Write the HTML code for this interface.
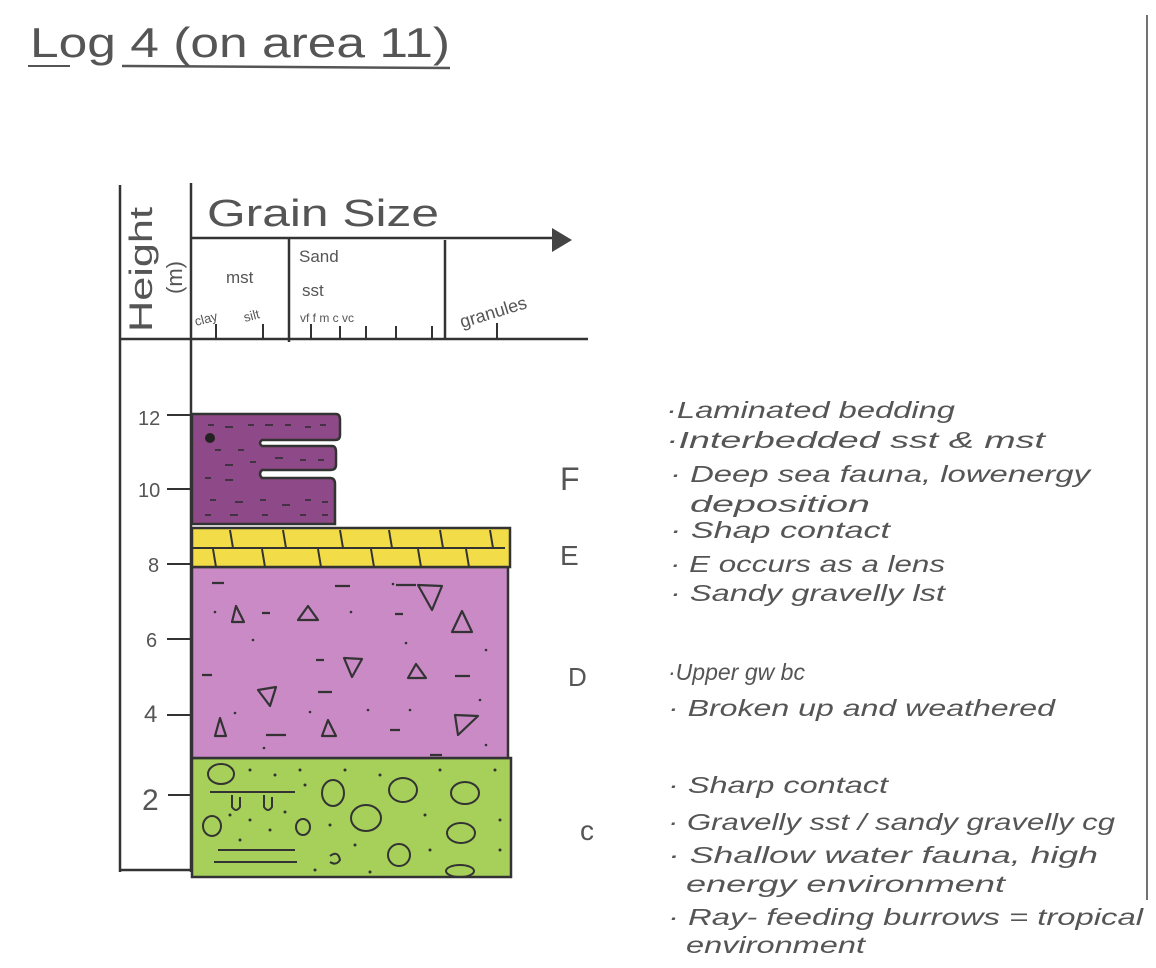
<!DOCTYPE html>
<html><head><meta charset="utf-8"><style>
html,body{margin:0;padding:0;background:#fff;}
svg{display:block;}
text{font-family:"Liberation Sans",sans-serif;fill:#555;}
</style></head><body>
<svg width="1156" height="968" viewBox="0 0 1156 968" xmlns="http://www.w3.org/2000/svg">
<rect width="1156" height="968" fill="#fff"/>
<line x1="1147" y1="15" x2="1147" y2="900" stroke="#444" stroke-width="1.5"/>
<!-- title -->
<text x="30" y="57" font-size="42" fill="#666" textLength="420" lengthAdjust="spacingAndGlyphs">Log 4 (on area 11)</text>
<line x1="28" y1="66" x2="70" y2="66" stroke="#555" stroke-width="2"/>
<line x1="122" y1="66" x2="450" y2="68" stroke="#555" stroke-width="2.5"/>

<!-- frame -->
<g stroke="#333" stroke-width="2.5" fill="none">
<line x1="120" y1="185" x2="120" y2="872"/>
<line x1="191" y1="183" x2="191" y2="872"/>
<line x1="120" y1="870" x2="192" y2="870"/>
<line x1="120" y1="339" x2="588" y2="339"/>
<line x1="191" y1="238" x2="555" y2="238"/>
<line x1="289" y1="238" x2="289" y2="342"/>
<line x1="445" y1="240" x2="445" y2="338"/>
</g>
<polygon points="552,228 572,240 552,252" fill="#444"/>
<g stroke="#333" stroke-width="2">
<line x1="216" y1="324" x2="216" y2="338"/><line x1="263" y1="324" x2="263" y2="338"/>
<line x1="311" y1="324" x2="311" y2="338"/><line x1="340" y1="326" x2="340" y2="338"/>
<line x1="366" y1="326" x2="366" y2="338"/><line x1="396" y1="326" x2="396" y2="338"/>
<line x1="432" y1="326" x2="432" y2="338"/><line x1="497" y1="323" x2="497" y2="338"/>
</g>
<text x="207" y="226" font-size="38" fill="#444" textLength="232" lengthAdjust="spacingAndGlyphs">Grain Size</text>
<text transform="translate(152,332) rotate(-90)" font-size="32" fill="#444" textLength="125" lengthAdjust="spacingAndGlyphs">Height</text>
<text transform="translate(182,294) rotate(-90)" font-size="22" fill="#444">(m)</text>
<text x="226" y="283" font-size="17" fill="#444">mst</text>
<text x="299" y="262" font-size="17" fill="#444">Sand</text>
<text x="302" y="296" font-size="17" fill="#444">sst</text>
<text x="196" y="326" font-size="13" fill="#444" transform="rotate(-15 196 326)">clay</text>
<text x="245" y="322" font-size="13" fill="#444" transform="rotate(-15 245 322)">silt</text>
<text x="300" y="322" font-size="12" fill="#444">vf  f  m   c  vc</text>
<text x="462" y="328" font-size="18" fill="#444" transform="rotate(-17 462 328)">granules</text>

<!-- height ticks -->
<g font-size="20" fill="#444">
<text x="138" y="425">12</text><line x1="167" y1="415" x2="190" y2="415" stroke="#333" stroke-width="2"/>
<text x="138" y="497">10</text><line x1="167" y1="489" x2="190" y2="489" stroke="#333" stroke-width="2"/>
<text x="148" y="572">8</text><line x1="167" y1="564" x2="190" y2="564" stroke="#333" stroke-width="2"/>
<text x="146" y="647">6</text><line x1="167" y1="639" x2="190" y2="639" stroke="#333" stroke-width="2"/>
<text x="144" y="722" font-size="24">4</text><line x1="167" y1="715" x2="190" y2="715" stroke="#333" stroke-width="2"/>
<text x="142" y="810" font-size="30">2</text><line x1="168" y1="795" x2="190" y2="795" stroke="#333" stroke-width="2"/>
</g>

<!-- C -->
<rect x="192" y="758" width="319" height="119" fill="#a6d05a" stroke="#333" stroke-width="2.5"/>
<g fill="none" stroke="#333" stroke-width="2">
<ellipse cx="221" cy="774" rx="13" ry="10"/><ellipse cx="333" cy="793" rx="11" ry="13"/>
<ellipse cx="403" cy="790" rx="14" ry="12"/><ellipse cx="465" cy="793" rx="14" ry="11"/>
<ellipse cx="212" cy="826" rx="9" ry="10"/><ellipse cx="303" cy="827" rx="7" ry="8"/>
<ellipse cx="366" cy="818" rx="15" ry="13"/><ellipse cx="461" cy="833" rx="14" ry="10"/>
<ellipse cx="399" cy="855" rx="11" ry="11"/><ellipse cx="460" cy="871" rx="14" ry="6"/>
<path d="M210 792 H295 M232 795 v12 q4 6 8 0 v-10 M264 795 v12 q4 6 8 0 v-10 M218 850 H295 M214 862 H297 M330 856 q8 -6 10 4 q-4 6 -10 2"/>
</g>
<g fill="#333">
<circle cx="250" cy="770" r="1.5"/><circle cx="275" cy="775" r="1.5"/><circle cx="300" cy="770" r="1.5"/><circle cx="345" cy="770" r="1.5"/><circle cx="380" cy="775" r="1.5"/><circle cx="440" cy="770" r="1.5"/><circle cx="495" cy="770" r="1.5"/><circle cx="305" cy="785" r="1.5"/><circle cx="230" cy="815" r="1.5"/><circle cx="250" cy="820" r="1.5"/><circle cx="270" cy="830" r="1.5"/><circle cx="285" cy="812" r="1.5"/><circle cx="330" cy="825" r="1.5"/><circle cx="425" cy="815" r="1.5"/><circle cx="500" cy="820" r="1.5"/><circle cx="240" cy="840" r="1.5"/><circle cx="355" cy="845" r="1.5"/><circle cx="430" cy="850" r="1.5"/><circle cx="500" cy="850" r="1.5"/><circle cx="315" cy="870" r="1.5"/><circle cx="370" cy="872" r="1.5"/>
</g>

<!-- D -->
<rect x="192" y="567" width="316" height="191" fill="#c98ac6" stroke="#333" stroke-width="2.5"/>
<g fill="none" stroke="#333" stroke-width="2.2" stroke-linejoin="round">
<polygon points="232,622 236,606 244,622"/><polygon points="298,620 308,606 318,620"/>
<polygon points="418,585 442,586 432,610"/><polygon points="452,632 462,611 472,632"/>
<polygon points="344,658 362,659 352,677"/><polygon points="408,678 416,664 426,678"/>
<polygon points="258,690 276,687 270,706"/><polygon points="215,736 220,718 226,736"/>
<polygon points="322,736 328,720 336,736"/><polygon points="455,715 478,716 458,735"/>
<path d="M212 583 h12 M335 586 h15 M396 585 h20 M262 613 h8 M395 614 h8 M202 675 h10 M316 660 h8 M318 692 h14 M455 676 h15 M266 735 h20 M390 730 h10 M430 755 h12"/>
</g>
<g fill="#333"><circle cx="215" cy="612" r="1.3"/><circle cx="351" cy="612" r="1.3"/><circle cx="253" cy="640" r="1.3"/><circle cx="406" cy="643" r="1.3"/><circle cx="486" cy="650" r="1.3"/><circle cx="235" cy="713" r="1.3"/><circle cx="310" cy="712" r="1.3"/><circle cx="368" cy="710" r="1.3"/><circle cx="410" cy="710" r="1.3"/><circle cx="264" cy="748" r="1.3"/><circle cx="486" cy="745" r="1.3"/><circle cx="480" cy="700" r="1.3"/><circle cx="393" cy="584" r="1.3"/></g>

<!-- E -->
<rect x="192" y="528" width="318" height="39" fill="#f2dd48" stroke="#333" stroke-width="2.5"/>
<g stroke="#333" stroke-width="2">
<line x1="192" y1="548" x2="505" y2="548"/>
<path d="M230 530 l3 18 M283 530 l3 18 M340 530 l3 18 M389 530 l3 18 M440 530 l3 18 M490 530 l3 18 M213 549 l3 18 M262 549 l3 18 M318 549 l3 18 M371 549 l3 18 M418 549 l3 18 M466 549 l3 18"/>
</g>

<!-- F -->
<path d="M192 414 H336 Q340 414 340 420 V435 Q340 440 335 440 H262 Q258 443 262 446 H332 Q336 446 336 452 V465 Q336 470 330 470 H262 Q258 474 262 478 H330 Q335 478 335 484 V524 H192 Z" fill="#8e4a88" stroke="#333" stroke-width="2.5"/>
<g stroke="#2a2a2a" stroke-width="1.6">
<path d="M208 425 h6 M225 427 h8 M248 425 h6 M265 425 h8 M285 425 h6 M305 427 h6 M320 425 h6 M215 450 h6 M238 450 h6 M225 465 h8 M250 462 h6 M275 458 h8 M300 460 h6 M318 460 h6 M205 478 h6 M225 480 h8 M210 500 h6 M235 502 h8 M260 500 h6 M282 505 h8 M305 500 h6 M322 502 h6 M205 515 h6 M230 515 h8 M262 515 h6 M300 515 h6 M322 515 h6"/>
</g>
<circle cx="210" cy="438" r="5" fill="#222"/>

<!-- letters -->
<g font-size="32" fill="#555">
<text x="560" y="490">F</text>
<text x="560" y="565" font-size="28">E</text>
<text x="568" y="686" font-size="26">D</text>
<text x="580" y="840" font-size="28">c</text>
</g>

<!-- notes -->
<g font-size="23" fill="#555" font-style="italic" lengthAdjust="spacingAndGlyphs">
<text x="666" y="418" textLength="289" lengthAdjust="spacingAndGlyphs">·Laminated bedding</text>
<text x="666" y="448" textLength="379" lengthAdjust="spacingAndGlyphs">·Interbedded sst &amp; mst</text>
<text x="670" y="482" textLength="420" lengthAdjust="spacingAndGlyphs">· Deep sea fauna, lowenergy</text>
<text x="690" y="512" textLength="180" lengthAdjust="spacingAndGlyphs">deposition</text>
<text x="670" y="538" textLength="220" lengthAdjust="spacingAndGlyphs">· Shap contact</text>
<text x="670" y="572" textLength="275" lengthAdjust="spacingAndGlyphs">· E occurs as a lens</text>
<text x="670" y="601" textLength="275" lengthAdjust="spacingAndGlyphs">· Sandy gravelly lst</text>
<text x="668" y="680" textLength="137" lengthAdjust="spacingAndGlyphs">·Upper gw bc</text>
<text x="668" y="716" textLength="387" lengthAdjust="spacingAndGlyphs">· Broken up and weathered</text>
<text x="668" y="793" textLength="220" lengthAdjust="spacingAndGlyphs">· Sharp contact</text>
<text x="668" y="830" textLength="447" lengthAdjust="spacingAndGlyphs">· Gravelly sst / sandy gravelly cg</text>
<text x="668" y="863" textLength="430" lengthAdjust="spacingAndGlyphs">· Shallow water fauna, high</text>
<text x="686" y="892" textLength="319" lengthAdjust="spacingAndGlyphs">energy environment</text>
<text x="668" y="925" textLength="475" lengthAdjust="spacingAndGlyphs">· Ray- feeding burrows = tropical</text>
<text x="686" y="953" textLength="179" lengthAdjust="spacingAndGlyphs">environment</text>
</g>
</svg>
</body></html>
